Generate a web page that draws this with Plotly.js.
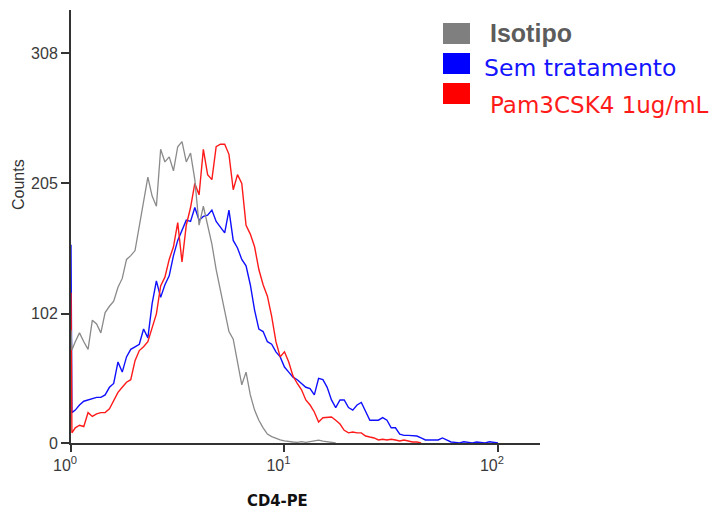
<!DOCTYPE html>
<html>
<head>
<meta charset="utf-8">
<script src="https://cdn.plot.ly/plotly-3.0.1.min.js"></script>
<style>html,body{margin:0;padding:0;background:#fff;}#chart{width:719px;height:512px;}</style>
</head>
<body>
<div id="chart"></div>
<script>
// CD4-PE fluorescence (bin positions, log scale)
const cd4 = [1, 1.01, 1.047, 1.096, 1.148, 1.202, 1.259, 1.318, 1.380, 1.445, 1.514, 1.585,
  1.660, 1.738, 1.820, 1.905, 1.995, 2.089, 2.188, 2.291, 2.399, 2.512, 2.630, 2.754, 2.884,
  3.020, 3.162, 3.311, 3.467, 3.631, 3.802, 3.981, 4.169, 4.365, 4.571, 4.786, 5.012, 5.248,
  5.495, 5.754, 6.026, 6.310, 6.607, 6.918, 7.244, 7.586, 7.943, 8.318, 8.710, 9.120, 9.550,
  10, 10.47, 10.96, 11.48, 12.02, 12.59, 13.18, 13.80, 14.45, 15.14, 15.85, 16.60, 17.38,
  18.20, 19.05, 19.95, 20.89, 21.88, 22.91, 23.99, 25.12, 26.30, 27.54, 28.84, 30.20, 31.62,
  33.11, 34.67, 36.31, 38.02, 39.81, 41.69, 43.65, 45.71, 47.86, 50.12, 52.48, 54.95, 57.54,
  60.26, 63.10, 66.07, 69.18, 72.44, 75.86, 79.43, 83.18, 87.10, 91.20, 95.50, 100];

// Counts: Isotipo (gray)
const isotipo = [89, 73.5,
  80, 87, 80, 74, 97, 94, 87, 103, 108, 112, 123, 130, 145, 148, 152, 171, 190, 210, 195, 187,
  232, 222, 226, 215, 234, 238, 222, 229, 208, 172, 187, 172, 157, 137, 121, 105, 88, 82, 64, 46,
  56, 38, 26, 18, 12, 7, 5, 3.5, 2.4, 1.6, 1, 0.8, 0.5, 1, 0.5, 1.2, 1.8, 2.2, 1.5, 1, 0.5, 0];

// Counts: Sem tratamento (blue)
const semTratamento = [156.5, 24,
  26, 30, 33, 34, 35, 36, 36, 38, 44, 47, 64, 56, 68, 74, 76, 78, 90, 83, 110, 128,
  115, 125, 132, 148, 160, 168, 176, 175, 186, 176, 179, 180, 184, 175, 170, 166, 184, 160, 154, 145,
  140, 125, 105, 90, 88, 80, 78, 72, 68, 60, 56, 52, 50, 47, 44, 43, 38, 51, 50, 44,
  34, 28, 34, 34, 28, 26, 30, 32, 24.5, 18, 18, 18, 20, 18, 12, 12, 7, 6, 6, 6,
  5.5, 4, 2.4, 2.4, 2.4, 2.4, 4, 2.4, 0.8, 0.5, 0, 1, 0.5, 0, 0.8, 0.5, 0, 1, 0.5, 0];

// Counts: Pam3CSK4 1ug/mL (red)
const pam3csk4 = [118.6, 8,
  12, 14, 13, 24, 21, 23, 24, 24, 27, 33, 40, 44, 48, 50, 65, 73, 76, 80, 92, 102,
  124, 131, 145, 155, 174, 143, 172, 186, 205, 196, 232, 212, 208, 234, 236, 236, 228, 200, 212, 205,
  172, 165, 155, 137, 125, 116, 100, 80, 68, 72, 64, 53, 47, 42, 34, 30, 24.5, 16.6, 20, 20,
  20.5, 18, 15, 10, 8, 8.7, 8, 8, 5.5, 4.7, 4, 2.4, 3, 2.4, 3, 2.4, 1.6, 2.4, 1.6, 0.8, 0.8, 0];

const yTicks = [0, 102, 205, 308];
const xTicks = [1, 10, 100];
const xTickText = ['10<sup>0</sup>', '10<sup>1</sup>', '10<sup>2</sup>'];
const legendNames = ['Isotipo', 'Sem tratamento', 'Pam3CSK4 1ug/mL'];

const traces = [
  {x: cd4.slice(0, semTratamento.length), y: semTratamento, mode: 'lines', line: {color: '#1010ff', width: 1.4}, name: legendNames[1]},
  {x: cd4.slice(0, pam3csk4.length), y: pam3csk4, mode: 'lines', line: {color: '#ff1a1a', width: 1.4}, name: legendNames[2]},
  {x: cd4.slice(0, isotipo.length), y: isotipo, mode: 'lines', line: {color: '#8a8a8a', width: 1.3}, name: legendNames[0]}
];

const W = 469, H = 433, L = 71, T = 10;
const px = v => (v - L) / W;
const py = v => (T + H - v) / H;

const shapes = [
  {type: 'rect', xref: 'paper', yref: 'paper', x0: px(443), x1: px(470), y0: py(44), y1: py(23), fillcolor: '#7f7f7f', line: {width: 0}},
  {type: 'rect', xref: 'paper', yref: 'paper', x0: px(443), x1: px(470), y0: py(74), y1: py(53), fillcolor: '#0000ff', line: {width: 0}},
  {type: 'rect', xref: 'paper', yref: 'paper', x0: px(443), x1: px(470), y0: py(104), y1: py(83), fillcolor: '#ff0000', line: {width: 0}}
];

const annotations = [
  {xref: 'paper', yref: 'paper', x: px(488), y: py(33), xanchor: 'left', yanchor: 'middle', showarrow: false,
   text: '<b>' + legendNames[0] + '</b>', font: {family: 'Liberation Sans, Arial', size: 25, color: '#5c5c5c'}},
  {xref: 'paper', yref: 'paper', x: px(482), y: py(68), xanchor: 'left', yanchor: 'middle', showarrow: false,
   text: legendNames[1], font: {family: 'DejaVu Sans, Verdana', size: 23.5, color: '#1414ff'}},
  {xref: 'paper', yref: 'paper', x: px(488), y: py(105), xanchor: 'left', yanchor: 'middle', showarrow: false,
   text: legendNames[2], font: {family: 'DejaVu Sans, Verdana', size: 23, color: '#ff1a1a'}},
  {xref: 'paper', yref: 'paper', x: px(19), y: py(185), xanchor: 'center', yanchor: 'middle', showarrow: false,
   textangle: -90, text: 'Counts', font: {family: 'Liberation Sans, Arial', size: 16, color: '#333'}},
  {xref: 'paper', yref: 'paper', x: px(277), y: py(500), xanchor: 'center', yanchor: 'middle', showarrow: false,
   text: '<b>CD4-PE</b>', font: {family: 'DejaVu Sans Condensed, Liberation Sans Narrow, sans-serif', size: 16.5, color: '#111'}}
];

const layout = {
  width: 719, height: 512,
  margin: {l: 71, r: 179, t: 10, b: 69, pad: 0},
  paper_bgcolor: '#fff', plot_bgcolor: '#fff',
  showlegend: false,
  font: {family: 'Liberation Sans, Arial', color: '#333'},
  xaxis: {
    type: 'log', range: [0, 2.197], tickvals: xTicks, ticktext: xTickText,
    ticks: 'outside', ticklen: 7, tickwidth: 2, tickcolor: '#333',
    showline: true, linewidth: 2, linecolor: '#333', showgrid: false, zeroline: false,
    tickfont: {size: 16, color: '#3a3a3a'}, ticklabelshift: -6
  },
  yaxis: {
    range: [0, 342], tickvals: yTicks, ticktext: yTicks.map(String),
    ticks: 'outside', ticklen: 8, tickwidth: 2, tickcolor: '#333',
    showline: true, linewidth: 2, linecolor: '#333', showgrid: false, zeroline: false,
    tickfont: {size: 16, color: '#3a3a3a'}
  },
  shapes: shapes,
  annotations: annotations
};

Plotly.newPlot('chart', traces, layout, {displayModeBar: false, staticPlot: true});
</script>
</body>
</html>
